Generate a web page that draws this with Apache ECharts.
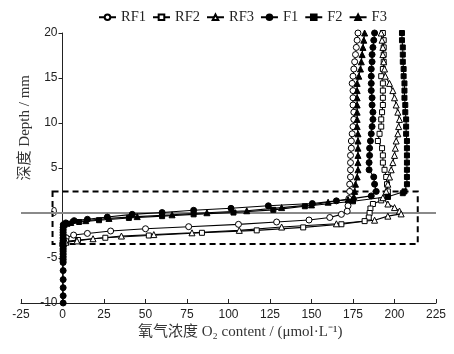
<!DOCTYPE html>
<html><head><meta charset="utf-8">
<script src="https://cdn.jsdelivr.net/npm/echarts@6/dist/echarts.min.js"></script>
<style>html,body{margin:0;padding:0;background:#fff}#c{width:454px;height:354px}</style>
</head><body><div id="c"></div>
<script>
// Shared depths (mm) of the upper, near-vertical part of each profile
var colDepth = [20,19.2,18.4,17.6,16.8,16,15.2,14.4,13.6,12.8,12,11.2,10.4,9.6,8.8,8,7.2,6.4,5.6,4.8,4,3.2,2.4];
// O2 (umol/L) at colDepth
var rf1Col = [178,177.5,177,176.5,176,175.5,175,174.5,175,175,175,175.5,175.5,175,174.5,174,174,173.5,173.5,173.5,173.5,173,173];
var rf2Col = [193,193.5,193.5,193.5,193.5,193,192,193,193,193,193,192.5,192,192,191,190,192.5,193,193,194,195,195.5,196];
var rf3Col = [192,192.5,193,193,193.5,194,194.5,197,199,200,201,202,203,202.5,202,201,200.5,200,199,198,197,196,195];
var f1Col  = [188,187.5,187,186.5,186.5,186,186,186,186,186.5,186.5,187,187,186.5,186,185.5,185,185,184.7,184.7,187.5,188,189];
var f2Col  = [204.5,204.5,205,205,205,205.5,205.5,206,206,206,206.5,206.5,207,207,207,207.5,207.5,207.5,207.5,207.5,207.5,207.5,206];
var f3Col  = [182,181.5,181,180.5,180,179.5,178.5,177.5,177.5,177.5,177.5,177.5,177.5,177.5,178,178,178,178,178,178,177.5,176.5,176];
// Interface and below: [O2, depth]
var rf1Low = [[172.5,1.6],[172,0.8],[171.5,0.2],[168,-0.15],[161,-0.5],[148.5,-0.78],[129,-1.0],[106,-1.26],[76,-1.52],[50,-1.75],[29,-2.0],[15,-2.27],[6.7,-2.45],[2.2,-2.75],[0.6,-3.0],[0.3,-3.3],[0.2,-3.6]];
var rf2Low = [[196,1.8],[192,1.4],[187,1.0],[185.5,0.5],[185,0],[184.5,-0.5],[182,-0.9],[168,-1.25],[145,-1.6],[117,-1.93],[84,-2.2],[52,-2.5],[25.8,-2.75],[9.3,-3.0],[2.2,-3.15],[0.5,-3.35],[0.3,-3.7]];
var rf3Low = [[193,1.7],[196,1.0],[200,0.6],[203,0.22],[204,-0.1],[196,-0.35],[188,-0.8],[165,-1.2],[132,-1.56],[106.5,-1.93],[78,-2.2],[55,-2.4],[35.5,-2.56],[18.4,-2.86],[8.7,-3.1],[2,-3.25],[0.5,-3.45],[0.3,-3.8]];
var f1Low  = [[186,1.9],[165,1.35],[150.5,1.05],[124,0.8],[101.5,0.52],[79,0.3],[60,0.05],[42,-0.15],[27,-0.45],[15,-0.7],[7,-0.85],[2,-1.1],[0.5,-1.3],[0.4,-1.6],[0.4,-1.9],[0.4,-2.2],[0.4,-2.5],[0.4,-2.8],[0.4,-3.1],[0.4,-3.4],[0.4,-3.7],[0.4,-4.0],[0.4,-4.3],[0.4,-4.6],[0.4,-4.9],[0.4,-5.2],[0.4,-5.5],[0.4,-6.4],[0.4,-7.4],[0.4,-8.3],[0.4,-9.2],[0.4,-10]];
var f2Low  = [[205,2.2],[196,1.8],[175,1.3],[146,0.75],[127,0.35],[103,0.05],[79,-0.15],[60,-0.35],[40,-0.55],[22,-0.8],[10,-1.0],[3,-1.2],[0.5,-1.45],[0.3,-1.8],[0.3,-2.1],[0.3,-2.4],[0.3,-2.7],[0.3,-3.0],[0.3,-3.3],[0.3,-3.6],[0.3,-3.9],[0.3,-4.2],[0.3,-4.5],[0.3,-4.8],[0.3,-5.1],[0.3,-5.4]];
var f3Low  = [[175.5,1.8],[172,1.5],[160,1.2],[150,0.9],[132,0.6],[111,0.25],[87,0.03],[66,-0.2],[45,-0.4],[28,-0.6],[14,-0.85],[5,-1.05],[1,-1.25],[0.3,-1.5],[0.3,-1.8],[0.3,-2.1],[0.3,-2.4],[0.3,-2.7],[0.3,-3.0],[0.3,-3.3],[0.3,-3.6],[0.3,-3.9],[0.3,-4.2],[0.3,-4.5],[0.3,-4.8],[0.3,-5.1]];
var seriesNames = ['RF1','RF2','RF3','F1','F2','F3'];
var xTicks = {min:-25, max:225, interval:25};
var yTicks = {min:-10, max:20, interval:5};
var boxCorners = [[-6,2.4],[214,-3.45]];

function build(col, low){
  var d = colDepth.map(function(dep,i){return [col[i], dep];});
  return d.concat(low);
}
var datasets = [build(rf1Col,rf1Low),build(rf2Col,rf2Low),build(rf3Col,rf3Low),build(f1Col,f1Low),build(f2Col,f2Low),build(f3Col,f3Low)];
var symbols = ['circle','rect','triangle','circle','rect','triangle'];
var sizes = [6,5,6,6,5,6];
var open = [true,true,true,false,false,false];
var serif = "'Liberation Serif','Noto Sans CJK SC',serif";
var sans = "'Liberation Sans',Arial,sans-serif";

var W = 454, gridL = 21, gridR = 18;
var gridW = W - gridL - gridR;
// y axis sits at x = 0: shift it right from the grid's left edge
var yOffset = -((0 - xTicks.min) / (xTicks.max - xTicks.min)) * gridW;

var series = seriesNames.map(function(n,i){
  var s = {
    name:n, type:'line', data:datasets[i], symbol:symbols[i], symbolSize:sizes[i],
    showSymbol:true, showAllSymbol:true, animation:false,
    lineStyle:{color:'#000', width:1.1},
    itemStyle:{color: open[i]?'#fff':'#000', borderColor:'#000', borderWidth:1},
    z: 3
  };
  if(i===0){
    s.markLine = {silent:true, symbol:['none','none'], label:{show:false},
      lineStyle:{color:'#8a8a8a', width:2, type:'solid'}, data:[{yAxis:0}], z:1};
    s.markArea = {silent:true, itemStyle:{color:'rgba(0,0,0,0)', borderColor:'#000', borderWidth:2, borderType:[6,4]},
      data:[[{coord:boxCorners[0]},{coord:boxCorners[1]}]]};
  }
  return s;
});

var chart = echarts.init(document.getElementById('c'));
chart.setOption({
  animation:false,
  backgroundColor:'#fff',
  grid:{left:gridL, right:gridR, top:33, bottom:51, outerBoundsMode:'none', containLabel:false},
  legend:{top:5, left:93, itemWidth:17, itemHeight:7, itemGap:6,
    textStyle:{fontFamily:serif, fontSize:14.5, color:'#222', width:26, overflow:'none'},
    data:seriesNames},
  xAxis:{type:'value', min:xTicks.min, max:xTicks.max, interval:xTicks.interval,
    axisLine:{onZero:false, lineStyle:{color:'#222', width:1}},
    axisTick:{inside:true, length:4, lineStyle:{color:'#222'}},
    axisLabel:{fontFamily:sans, fontSize:12, color:'#222', margin:6},
    splitLine:{show:false}},
  yAxis:{type:'value', min:yTicks.min, max:yTicks.max, interval:yTicks.interval,
    offset:yOffset,
    axisLine:{onZero:false, lineStyle:{color:'#222', width:1}},
    axisTick:{inside:false, length:4, lineStyle:{color:'#222'}},
    axisLabel:{fontFamily:sans, fontSize:12, color:'#222', margin:5},
    splitLine:{show:false}},
  graphic:[
    {type:'text', left:18, top:75, rotation:Math.PI/2, style:{text:'深度 Depth / mm', font:"15px "+serif, fill:'#333'}},
    {type:'text', left:138, top:325, style:{text:'氧气浓度 O₂ content / (μmol·L⁻¹)', font:"15px "+serif, fill:'#333'}}
  ],
  series:series
});
</script></body></html>
